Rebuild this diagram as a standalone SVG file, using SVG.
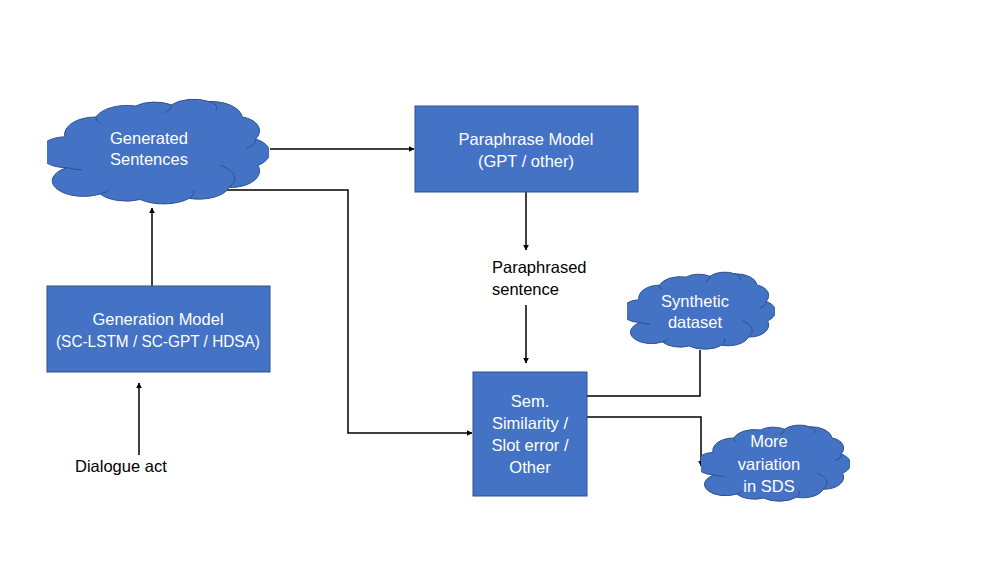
<svg xmlns="http://www.w3.org/2000/svg" xmlns:xlink="http://www.w3.org/1999/xlink" width="1000" height="563" viewBox="0 0 1000 563">
<style>
.box{fill:#4472C4;stroke:#2F528F;stroke-width:1}
.cloud{fill:#4472C4;stroke:#2F528F;stroke-width:1;vector-effect:non-scaling-stroke}
.crease{fill:none;stroke:#2F528F;stroke-width:1;vector-effect:non-scaling-stroke}
.wt{fill:#FFFFFF;font-family:"Liberation Sans",Arial,sans-serif;font-size:16.5px;text-anchor:middle}
.bt{fill:#000000;font-family:"Liberation Sans",Arial,sans-serif;font-size:16.5px}
.conn{fill:none;stroke:#000;stroke-width:1.5}
</style>
<defs>
<marker id="arr" viewBox="0 0 10 10" refX="9" refY="5" markerWidth="4" markerHeight="4" orient="auto" markerUnits="strokeWidth">
<path d="M0,0 L10,5 L0,10 Z" fill="#000"/>
</marker>
<symbol id="cloudShape" viewBox="0 0 100 100" preserveAspectRatio="none">
<path class="cloud" d="M 9,66 A 12,14 0 0 1 8,38 A 14,16 0 0 1 22,20 A 15,16 0 0 1 40,10 A 12,12 0 0 1 56,9 A 13,14 0 0 1 73,6 A 14,16 0 0 1 88,20 A 10,13 0 0 1 94,40 A 12,14 0 0 1 95,64 A 13,15 0 0 1 82,84 A 14,14 0 0 1 64,94 A 15,14 0 0 1 42,95 A 14,14 0 0 1 24,90 A 12,12 0 0 1 9,66 Z"/>
<path class="crease" d="M 9,66 A 10,8 0 0 0 16,68"/>
<path class="crease" d="M 24,90 A 10,8 0 0 0 28,86"/>
<path class="crease" d="M 64,94 A 10,10 0 0 0 66,86"/>
<path class="crease" d="M 82,84 A 14,14 0 0 0 78,64"/>
<path class="crease" d="M 94,40 A 8,8 0 0 1 90,48"/>
<path class="crease" d="M 73,6 A 6,6 0 0 1 76,14"/>
<path class="crease" d="M 56,9 A 8,8 0 0 1 53,16"/>
<path class="crease" d="M 22,20 A 8,8 0 0 0 24,26"/>
</symbol>
</defs>

<g id="connectors">
<line class="conn" x1="270" y1="149" x2="414" y2="149" marker-end="url(#arr)"/>
<polyline class="conn" points="223,190 348,190 348,433 472,433" marker-end="url(#arr)"/>
<line class="conn" x1="152" y1="286" x2="152" y2="208" marker-end="url(#arr)"/>
<line class="conn" x1="139" y1="455" x2="139" y2="383" marker-end="url(#arr)"/>
<line class="conn" x1="526" y1="192" x2="526" y2="250" marker-end="url(#arr)"/>
<line class="conn" x1="526" y1="305" x2="526" y2="363" marker-end="url(#arr)"/>
<polyline class="conn" points="587,396 700,396 700,350"/>
<polyline class="conn" points="587,417 701,417 701,466" marker-end="url(#arr)"/>
</g>

<g id="generated-sentences">
<use xlink:href="#cloudShape" x="47" y="95" width="222" height="110"/>
<text class="wt" x="149" y="144">Generated</text>
<text class="wt" x="149" y="165">Sentences</text>
</g>

<g id="paraphrase-model">
<rect class="box" x="415" y="106" width="223" height="86"/>
<text class="wt" x="526" y="145">Paraphrase Model</text>
<text class="wt" x="526" y="167">(GPT / other)</text>
</g>

<g id="generation-model">
<rect class="box" x="47" y="286" width="223" height="86"/>
<text class="wt" x="158" y="325">Generation Model</text>
<text class="wt" x="158" y="347" textLength="204" lengthAdjust="spacingAndGlyphs">(SC-LSTM / SC-GPT / HDSA)</text>
</g>

<g id="dialogue-act">
<text class="bt" x="75" y="472">Dialogue act</text>
</g>

<g id="paraphrased-sentence">
<text class="bt" x="492" y="273">Paraphrased</text>
<text class="bt" x="492" y="295">sentence</text>
</g>

<g id="sem-similarity">
<rect class="box" x="473" y="372" width="114" height="124"/>
<text class="wt" x="530" y="407">Sem.</text>
<text class="wt" x="530" y="429">Similarity /</text>
<text class="wt" x="530" y="451">Slot error /</text>
<text class="wt" x="530" y="473">Other</text>
</g>

<g id="synthetic-dataset">
<use xlink:href="#cloudShape" x="627" y="269" width="148" height="81"/>
<text class="wt" x="695" y="307">Synthetic</text>
<text class="wt" x="695" y="328">dataset</text>
</g>

<g id="more-variation">
<use xlink:href="#cloudShape" x="701" y="422" width="149" height="80"/>
<text class="wt" x="769" y="447">More</text>
<text class="wt" x="769" y="470">variation</text>
<text class="wt" x="769" y="492">in SDS</text>
</g>
</svg>
